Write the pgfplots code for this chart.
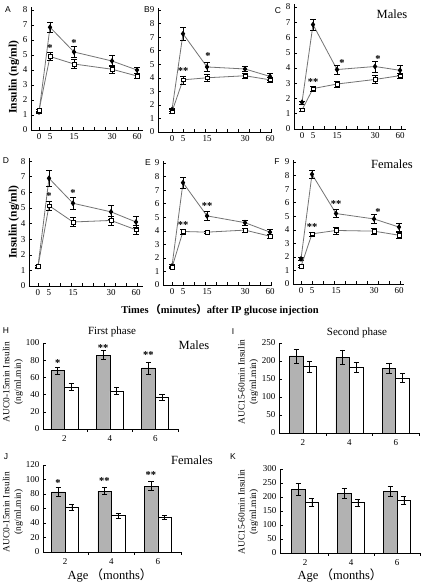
\documentclass[border=0pt]{standalone}
\usepackage{fontspec}
\setmainfont{Liberation Serif}
\newfontfamily\sansfont{Liberation Sans}
\newfontfamily\cjk{Noto Sans CJK SC}
\usepackage{pgfplots}
\pgfplotsset{compat=1.18}

\pgfplotsset{
  base/.style={
    scale only axis,
    anchor=south west,
    axis lines=left,
    axis line style={-, line width=0.6pt},
    tick align=inside,
    major tick length=3pt,
    minor tick length=3pt,
    tick style={line width=0.5pt, black},
    major x tick style={draw=none},
    ticklabel style={font=\fontsize{9}{9}\selectfont},
    /pgf/number format/assume math mode=true,
    clip=false,
    ymin=0,
  },
  % insulin curves: time points placed at 0, 5, 15, 30, 60 min
  curve/.style={
    base,
    xtick={0,11,35,73,98},
    xticklabels={0,5,15,30,60},
    minor xtick={0,11,...,99},
  },
  errs/.style={
    /pgfplots/error bars/y dir=both,
    /pgfplots/error bars/y explicit,
    /pgfplots/error bars/error bar style={black, line width=0.5pt, solid},
    /pgfplots/error bars/error mark options={rotate=90, mark size=2.6pt, black, line width=0.5pt},
  },
  filledser/.style={black!55, line width=0.8pt, mark=diamond*, mark size=2.3pt,
    mark options={black, fill=black, solid}, errs},
  openser/.style={black!55, line width=0.8pt, mark=square*, mark size=1.8pt,
    mark options={black, fill=white, line width=0.5pt, solid}, errs},
  % AUC bar charts at 2, 4 and 6 months
  bars/.style={
    base,
    ybar=0pt, bar width=13.5pt,
    xmax=7,
    xtick={2,4,6},
    minor xtick={3,5,7},
  },
  graybar/.style={fill=black!30, draw=black, line width=0.6pt, errs},
  whitebar/.style={fill=white, draw=black, line width=0.6pt, errs},
}
\tikzset{
  sig/.style={font=\bfseries\fontsize{10.5}{10.5}\selectfont, inner sep=0pt, yshift=-1.5pt},
  letter/.style={font=\sansfont\fontsize{8.5}{9}\selectfont, inner sep=0pt},
  sex/.style={font=\fontsize{12.5}{13}\selectfont, inner sep=0pt},
  ylab/.style={font=\bfseries\fontsize{11.5}{12}\selectfont, rotate=90, inner sep=0pt},
  auclab/.style={font=\fontsize{9.4}{11.5}\selectfont, rotate=90, align=center, inner sep=0pt},
}

\begin{document}
\begin{tikzpicture}[x=1pt,y=1pt]
\path[use as bounding box] (0pt,0pt) rectangle (429pt,583pt);

% ---------------- Males ----------------
% A
\begin{axis}[curve, at={(31pt,453pt)}, width=112pt, height=123pt,
  xmin=-8, xmax=104, ymax=8.2, ytick={0,...,8}]
\addplot[filledser] coordinates {(0,1.2) +- (0,0.08) (11,6.85) +- (0,0.35) (35,5.2) +- (0,0.35) (73,4.6) +- (0,0.35) (98,4.0) +- (0,0.2)};
\addplot[openser] coordinates {(0,1.3) +- (0,0.1) (11,4.9) +- (0,0.25) (35,4.4) +- (0,0.3) (73,4.05) +- (0,0.25) (98,3.6) +- (0,0.15)};
\node[sig] at (axis cs:11,5.55) {*};
\node[sig] at (axis cs:35,5.9) {*};
\end{axis}
% B
\begin{axis}[curve, at={(158pt,451pt)}, width=114pt, height=124pt,
  xmin=-14, xmax=100, ymax=9.15, ytick={0,...,9}]
\addplot[filledser] coordinates {(0,1.65) +- (0,0.1) (11,7.25) +- (0,0.5) (35,4.8) +- (0,0.35) (73,4.65) +- (0,0.2) (98,4.1) +- (0,0.25)};
\addplot[openser] coordinates {(0,1.5) +- (0,0.15) (11,3.85) +- (0,0.3) (35,4.0) +- (0,0.25) (73,4.15) +- (0,0.2) (98,3.85) +- (0,0.2)};
\node[sig] at (axis cs:11,4.6) {**};
\node[sig] at (axis cs:36,5.75) {*};
\end{axis}
% C
\begin{axis}[curve, at={(294pt,454pt)}, width=112pt, height=125pt,
  xmin=-8, xmax=104, ymax=8.2, ytick={0,...,8}]
\addplot[filledser] coordinates {(0,1.75) +- (0,0.1) (11,6.85) +- (0,0.35) (35,3.9) +- (0,0.3) (73,4.1) +- (0,0.35) (98,3.85) +- (0,0.35)};
\addplot[openser] coordinates {(0,1.25) +- (0,0.1) (11,2.65) +- (0,0.15) (35,2.95) +- (0,0.2) (73,3.25) +- (0,0.25) (98,3.5) +- (0,0.15)};
\node[sig] at (axis cs:11,3.15) {**};
\node[sig] at (axis cs:40,4.45) {*};
\node[sig] at (axis cs:76,4.72) {*};
\end{axis}

% ---------------- Females ----------------
% D
\begin{axis}[curve, at={(29pt,297pt)}, width=114pt, height=128pt,
  xmin=-9, xmax=105, ymax=8.2, ytick={0,...,8}]
\addplot[filledser] coordinates {(0,1.25) +- (0,0.08) (11,6.9) +- (0,0.5) (35,5.3) +- (0,0.4) (73,4.75) +- (0,0.45) (98,4.1) +- (0,0.35)};
\addplot[openser] coordinates {(0,1.25) +- (0,0.1) (11,5.15) +- (0,0.3) (35,4.1) +- (0,0.3) (73,4.2) +- (0,0.3) (98,3.6) +- (0,0.3)};
\node[sig] at (axis cs:11,5.85) {*};
\node[sig] at (axis cs:35,6.05) {*};
\end{axis}
% E
\begin{axis}[curve, at={(163pt,298pt)}, width=109pt, height=124pt,
  xmin=-9, xmax=100, ymax=9.15, ytick={0,...,9}]
\addplot[filledser] coordinates {(0,1.4) +- (0,0.1) (11,7.55) +- (0,0.4) (35,5.1) +- (0,0.35) (73,4.6) +- (0,0.2) (98,3.9) +- (0,0.25)};
\addplot[openser] coordinates {(0,1.3) +- (0,0.1) (11,3.95) +- (0,0.2) (35,3.9) +- (0,0.1) (73,4.05) +- (0,0.15) (98,3.6) +- (0,0.15)};
\node[sig] at (axis cs:11,4.55) {**};
\node[sig] at (axis cs:35,5.95) {**};
\end{axis}
% F
\begin{axis}[curve, at={(293pt,299pt)}, width=111pt, height=124pt,
  xmin=-8, xmax=103, ymax=9.15, ytick={0,...,9}]
\addplot[filledser] coordinates {(0,1.85) +- (0,0.1) (11,8.1) +- (0,0.3) (35,5.2) +- (0,0.3) (73,4.8) +- (0,0.35) (98,4.2) +- (0,0.3)};
\addplot[openser] coordinates {(0,1.3) +- (0,0.1) (11,3.7) +- (0,0.15) (35,3.95) +- (0,0.25) (73,3.9) +- (0,0.25) (98,3.6) +- (0,0.2)};
\node[sig] at (axis cs:11,4.3) {**};
\node[sig] at (axis cs:35,6.0) {**};
\node[sig] at (axis cs:77,5.4) {*};
\end{axis}

% ---------------- AUC ----------------
% H: first phase, males
\begin{axis}[bars, at={(43pt,154pt)}, width=135pt, height=86pt,
  xmin=1.055, ymax=100, ytick={0,20,...,100}]
\addplot[graybar] coordinates {(2,68) +- (0,4) (4,86) +- (0,5) (6,71) +- (0,7)};
\addplot[whitebar] coordinates {(2,49) +- (0,4) (4,44) +- (0,4) (6,37) +- (0,3)};
\node[sig] at (axis cs:1.7,79) {*};
\node[sig] at (axis cs:3.7,96) {**};
\node[sig] at (axis cs:5.7,88) {**};
\end{axis}
% I: second phase, males
\begin{axis}[bars, at={(279pt,150pt)}, width=140pt, height=90pt,
  xmin=0.97, ymax=250, ytick={0,50,...,250}]
\addplot[graybar] coordinates {(2,214) +- (0,19) (4,211) +- (0,20) (6,180) +- (0,15)};
\addplot[whitebar] coordinates {(2,184) +- (0,15) (4,183) +- (0,14) (6,153) +- (0,13)};
\end{axis}
% J: first phase, females
\begin{axis}[bars, at={(43pt,31pt)}, width=138pt, height=87pt,
  xmin=1.05, ymax=120, ytick={0,20,...,120}]
\addplot[graybar] coordinates {(2,83) +- (0,6) (4,84) +- (0,5) (6,91) +- (0,6)};
\addplot[whitebar] coordinates {(2,62) +- (0,4) (4,50) +- (0,3.5) (6,48) +- (0,3)};
\node[sig] at (axis cs:1.7,97) {*};
\node[sig] at (axis cs:3.7,100) {**};
\node[sig] at (axis cs:5.7,108) {**};
\end{axis}
% K: second phase, females
\begin{axis}[bars, at={(280pt,30pt)}, width=140pt, height=84pt,
  xmin=0.91, ymax=300, ytick={0,50,...,300}]
\addplot[graybar] coordinates {(2,228) +- (0,20) (4,213) +- (0,17) (6,220) +- (0,18)};
\addplot[whitebar] coordinates {(2,182) +- (0,15) (4,180) +- (0,12) (6,188) +- (0,15)};
\end{axis}

% ---------------- labels ----------------
\node[letter] at (8pt,573pt) {A};
\node[letter] at (147pt,573pt) {B};
\node[letter] at (278pt,572pt) {C};
\node[letter] at (6pt,422pt) {D};
\node[letter] at (148pt,420pt) {E};
\node[letter] at (277pt,421pt) {F};
\node[letter] at (6pt,252pt) {H};
\node[letter] at (233pt,251pt) {I};
\node[letter] at (6pt,126pt) {J};
\node[letter] at (233pt,126pt) {K};

\node[sex] at (392pt,569pt) {Males};
\node[sex] at (392pt,419pt) {Females};
\node[sex] at (194pt,238pt) {Males};
\node[sex] at (192pt,123pt) {Females};

\node[ylab] at (14pt,506pt) {Insulin (ng/ml)};
\node[ylab] at (14pt,361pt) {Insulin (ng/ml)};

\node[font=\bfseries\fontsize{10.5}{11}\selectfont, inner sep=0pt] at (220pt,273pt)
  {Times\,{\cjk（}minutes{\cjk）}after IP glucose injection};

\node[font=\fontsize{11}{12}\selectfont, inner sep=0pt] at (112pt,251pt) {First phase};
\node[font=\fontsize{11}{12}\selectfont, inner sep=0pt] at (357pt,250pt) {Second phase};

\node[auclab] at (13pt,201pt) {AUC0-15min Insulin\\(ng/ml.min)};
\node[auclab] at (248pt,201pt) {AUC15-60min Insulin\\(ng/ml.min)};
\node[auclab] at (13pt,71pt) {AUC0-15min Insulin\\(ng/ml.min)};
\node[auclab] at (248pt,71pt) {AUC15-60min Insulin\\(ng/ml.min)};

\node[font=\fontsize{12.5}{13}\selectfont, inner sep=0pt] at (110pt,8pt) {Age\,{\cjk（}months{\cjk）}};
\node[font=\fontsize{12.5}{13}\selectfont, inner sep=0pt] at (340pt,8pt) {Age\,{\cjk（}months{\cjk）}};
\end{tikzpicture}
\end{document}
